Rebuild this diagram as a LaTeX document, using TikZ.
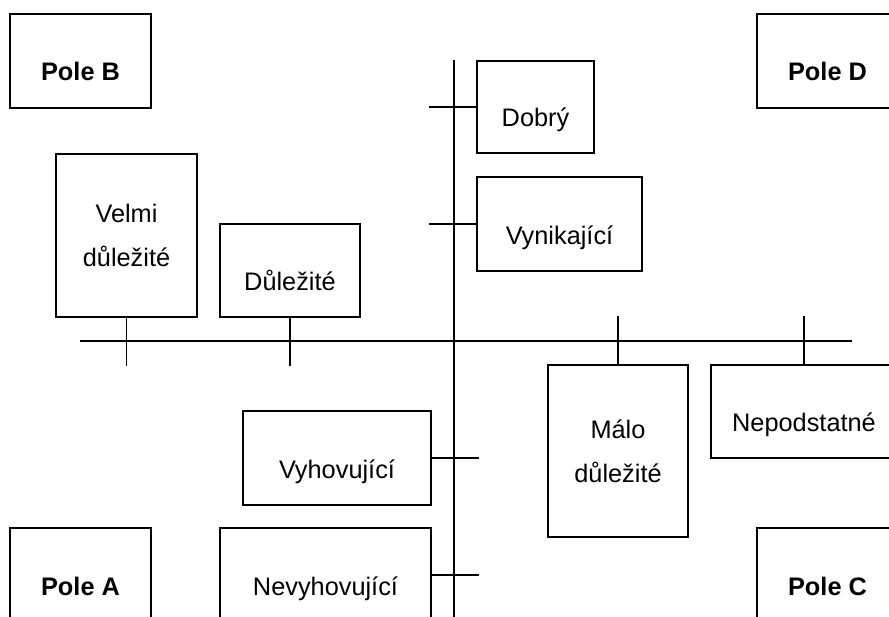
\documentclass[tikz,border=0pt]{standalone}
\usepackage{fontspec}
\setmainfont{Liberation Sans}

\begin{document}
\begin{tikzpicture}[x=0.75pt, y=-0.75pt, line width=1.4pt,
    box/.style={draw, rectangle, inner sep=0pt, align=center, font=\fontsize{19}{33}\selectfont},
    low/.style={text height=30pt, text depth=0pt},
    pole/.style={box, low, font=\fontsize{19}{33}\selectfont\bfseries},
    boxsize/.style 2 args={minimum width=#1*0.75pt, minimum height=#2*0.75pt}]
    \useasboundingbox (0,0) rectangle (889,617);
    \clip (0,0) rectangle (889,617);

    % corner fields
    \node[pole, boxsize={141}{94}] (poleB) at (80.5, 61) {Pole B};
    \node[pole, boxsize={141}{94}] (poleD) at (827.5, 61) {Pole D};
    \node[pole, boxsize={141}{94}] (poleA) at (80.5, 575) {Pole A};
    \node[pole, boxsize={141}{94}] (poleC) at (827.5, 575) {Pole C};

    % axes
    \coordinate (vtop) at (454, 60);
    \coordinate (vbot) at (454, 625);
    \coordinate (hleft) at (80, 341);
    \coordinate (hright) at (852, 341);
    \draw (vtop) -- (vbot);
    \draw (hleft) -- (hright);

    % importance
    \node[box, boxsize={141}{163}] (velmi) at (126.5, 235.5) {Velmi\\důležité};
    \node[box, low, boxsize={140}{93}] (dulez) at (290, 270.5) {Důležité};
    \node[box, boxsize={140}{172}] (malo) at (618, 451) {Málo\\důležité};
    \node[box, low, boxsize={186}{93}] (nepod) at (804, 411.5) {Nepodstatné};

    % performance
    \node[box, low, boxsize={117}{92}] (dobry) at (535.5, 107) {Dobrý};
    \node[box, low, boxsize={165}{94}] (vynik) at (559.5, 224) {Vynikající};
    \node[box, low, boxsize={188}{94}] (vyhov) at (337, 458) {Vyhovující};
    \node[box, low, boxsize={211}{94}] (nevyh) at (325.5, 575) {Nevyhovující};

    \draw
    (velmi.south) -- ++(0, 48)
    (dulez.south) -- ++(0, 48)
    (malo.north) -- ++(0, -48)
    (nepod.north) -- ++(0, -48)

    (dobry.west) -- ++(-47, 0)
    (vynik.west) -- ++(-47, 0)
    (vyhov.east) -- ++(47, 0)
    (nevyh.east) -- ++(47, 0);
\end{tikzpicture}
\end{document}
